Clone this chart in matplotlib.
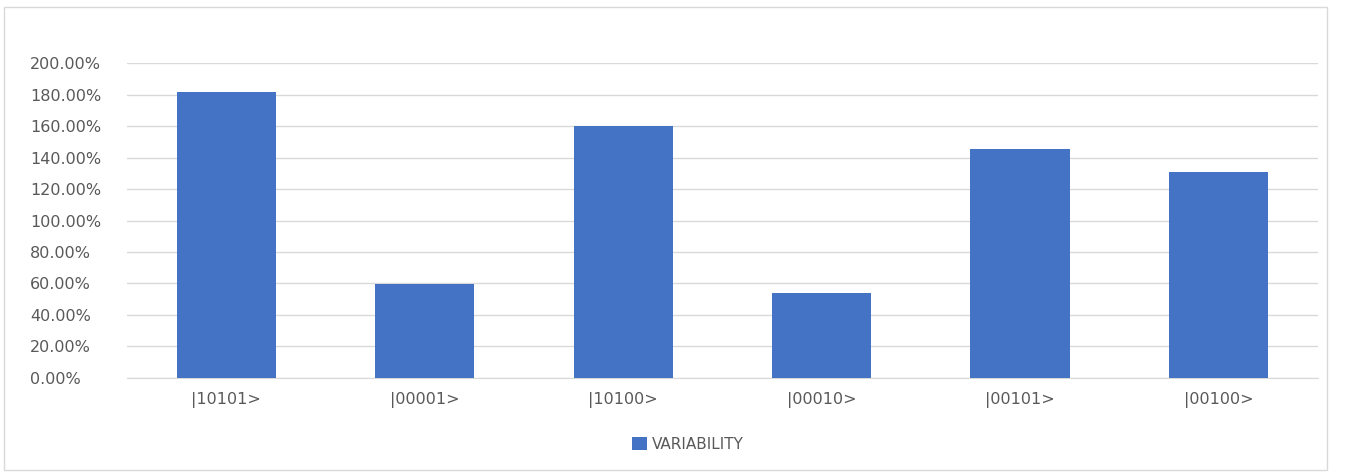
import matplotlib.pyplot as plt
from matplotlib.ticker import FuncFormatter, MultipleLocator
from matplotlib.patches import Rectangle

states = ['|10101>', '|00001>', '|10100>', '|00010>', '|00101>', '|00100>']
variability = [1.82, 0.595, 1.60, 0.54, 1.455, 1.31]

fig = plt.figure(figsize=(13.46, 4.73), dpi=100)
ax = fig.add_axes([0.0944, 0.2015, 0.8846, 0.6645])

ax.bar(range(len(states)), variability, width=0.5, color='#4472C4',
       label='VARIABILITY', zorder=3)

ax.set_xlim(-0.5, len(states) - 0.5)
ax.set_ylim(0, 2.0)
ax.yaxis.set_major_locator(MultipleLocator(0.2))
ax.yaxis.set_major_formatter(FuncFormatter(lambda v, p: '%.2f%%' % (v * 100)))
ax.set_xticks(range(len(states)))
ax.set_xticklabels(states)
ax.tick_params(axis='both', length=0, labelsize=11.5, labelcolor='#595959')
ax.tick_params(axis='x', pad=10)
# excel puts the value labels flush left
ax.tick_params(axis='y', pad=70)
for t in ax.get_yticklabels():
    t.set_horizontalalignment('left')
ax.grid(axis='y', color='#d9d9d9', linewidth=1, zorder=0)
for s in ['top', 'right', 'left']:
    ax.spines[s].set_visible(False)
ax.spines['bottom'].set_color('#d9d9d9')

fig.legend(loc='center', bbox_to_anchor=(0.511, 0.061), frameon=False,
           fontsize=11, labelcolor='#595959', handlelength=1.0,
           handleheight=1.0, handletextpad=0.3)

# light frame round the chart
fig.patches.append(Rectangle((0.003, 0.006), 0.983, 0.98, transform=fig.transFigure,
                             fill=False, edgecolor='#d9d9d9', linewidth=1))

plt.savefig('out.png')
